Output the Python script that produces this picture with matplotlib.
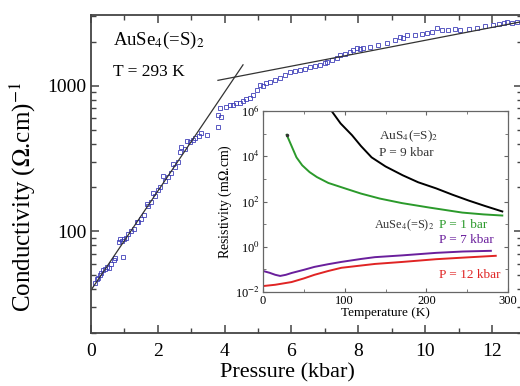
import numpy as np
import matplotlib
matplotlib.use('Agg')
import matplotlib.pyplot as plt
from matplotlib.ticker import LogLocator, NullFormatter, FixedLocator, MultipleLocator

plt.rcParams['font.family'] = ['Liberation Serif', 'DejaVu Serif']
plt.rcParams['mathtext.fontset'] = 'stix'

# Conductivity vs pressure (T = 293 K)
p_low = [0.12, 0.18, 0.22, 0.27, 0.3, 0.35, 0.42, 0.48, 0.55, 0.6, 0.68, 0.72,
         0.85, 0.88, 0.92, 0.96, 1.0, 1.05, 1.12, 1.2, 1.28, 1.37, 1.42, 1.5,
         1.58, 1.67, 1.72, 1.8, 1.86, 1.92, 2.0, 2.08, 2.16, 2.22, 2.3, 2.38,
         2.46, 2.52, 2.6, 2.66, 2.7, 2.8, 2.88, 2.95, 3.06, 3.12, 3.23, 3.3,
         3.47, 3.8, 3.8, 3.86, 3.9]
s_low = [44, 47, 48, 50, 52, 54, 55, 57, 56, 60, 63, 66,
         85, 89, 86, 67, 88, 90, 96, 100, 104, 115, 116, 122,
         130, 155, 150, 160, 183, 175, 192, 200, 238, 222, 235, 250,
         288, 278, 300, 348, 382, 365, 420, 410, 427, 440, 450, 470,
         462, 524, 633, 707, 614]
p_high = [4.05, 4.15, 4.25, 4.35, 4.46, 4.55, 4.65, 4.76, 4.85, 4.97, 5.06,
          5.15, 5.25, 5.36, 5.5, 5.65, 5.8, 5.96, 6.1, 6.25, 6.4, 6.56, 6.7,
          6.85, 7.0, 7.07, 7.2, 7.35, 7.46, 7.6, 7.75, 7.85, 7.96, 8.05, 8.15,
          8.35, 8.6, 8.85, 9.1, 9.25, 9.35, 9.46, 9.7, 9.9, 10.06, 10.2, 10.36,
          10.5, 10.7, 10.9, 11.05, 11.3, 11.56, 11.8, 12.04, 12.2, 12.35, 12.46,
          12.6, 12.75]
s_high = [720, 735, 740, 760, 765, 790, 805, 828, 870, 940, 1016,
          1000, 1040, 1065, 1100, 1130, 1180, 1247, 1260, 1290, 1310, 1350, 1370,
          1400, 1430, 1460, 1500, 1560, 1630, 1650, 1700, 1760, 1820, 1790, 1830,
          1850, 1900, 1960, 2050, 2170, 2140, 2230, 2220, 2260, 2300, 2350, 2490,
          2400, 2430, 2460, 2420, 2450, 2490, 2560, 2620, 2640, 2680, 2740,
          2720, 2760]

# fitted straight lines (semi-log)
fit1_p = [0.0, 4.55]
fit1_s = [39.4, 1393]
fit2_p = [3.8, 12.9]
fit2_s = [1090, 2760]

# Inset: resistivity vs temperature (log10 of rho in mOhm.cm)
t_black = [84, 95, 109, 120, 133, 150, 171, 190, 212, 232, 252, 272, 293]
r_black = [6.0, 5.45, 4.93, 4.45, 3.95, 3.55, 3.16, 2.85, 2.58, 2.3, 2.04, 1.8, 1.56]
t_green = [29, 35, 41, 48, 57, 66, 80, 102, 120, 143, 170, 204, 244, 270, 293]
r_green = [4.95, 4.45, 3.95, 3.6, 3.3, 3.08, 2.82, 2.56, 2.35, 2.13, 1.93, 1.73, 1.51, 1.43, 1.38]
t_purple = [0, 8, 15, 21, 28, 35, 50, 63, 80, 96, 120, 137, 171, 212, 245, 279]
r_purple = [-1.07, -1.15, -1.24, -1.29, -1.24, -1.16, -1.02, -0.89, -0.77, -0.67, -0.54, -0.46, -0.38, -0.27, -0.21, -0.18]
t_red = [2, 15, 35, 50, 63, 80, 96, 120, 137, 171, 212, 250, 285]
r_red = [-1.73, -1.68, -1.56, -1.4, -1.24, -1.07, -0.93, -0.83, -0.76, -0.67, -0.55, -0.47, -0.4]

W, H = 520, 386
fig = plt.figure(figsize=(W / 100, H / 100), dpi=100)

# main axes (right spine sits just outside the picture)
ax = fig.add_axes([91 / W, (H - 333) / H, (522 - 91) / W, (333 - 15) / H])
ax.set_yscale('log')
ax.set_xlim(0, 12.9)
ax.set_ylim(20, 3065)
ax.plot(p_low, s_low, 's', mfc='none', mec='#3d3db8', ms=3.2, mew=0.7, alpha=0.85)
ax.plot(p_high, s_high, 's', mfc='none', mec='#3d3db8', ms=3.2, mew=0.7, alpha=0.85)
ax.plot(fit1_p, fit1_s, color='#333333', lw=0.9)
ax.plot(fit2_p, fit2_s, color='#333333', lw=0.9)

ax.xaxis.set_major_locator(MultipleLocator(2))
ax.xaxis.set_minor_locator(MultipleLocator(1))
ax.yaxis.set_major_locator(FixedLocator([100, 1000]))
ax.yaxis.set_major_formatter(plt.FixedFormatter(['100', '1000']))
ax.yaxis.set_minor_locator(LogLocator(base=10, subs=np.arange(2, 10)))
ax.yaxis.set_minor_formatter(NullFormatter())
ax.tick_params(which='both', direction='in', top=True, right=True,
               color='#444444', labelsize=14)
ax.tick_params(which='major', length=6, width=1.1)
ax.tick_params(which='minor', length=3.5, width=1.0)
ax.tick_params(axis='x', pad=7)
for s in ax.spines.values():
    s.set_linewidth(1.3)
    s.set_color('#444444')

ax.set_xlabel('Pressure (kbar)', fontsize=16)
ax.xaxis.set_label_coords((287 - 91) / (522 - 91), -0.095)
ax.set_ylabel(r'Conductivity ($\Omega$.cm)$^{-1}$', fontsize=18)
ax.yaxis.set_label_coords(-0.122, (333 - 197) / 318)

ax.text(0.05, 0.92, r'AuSe$_4$(=S)$_2$', transform=ax.transAxes, fontsize=13.5,
        va='center', ha='left')
ax.text(0.05, 0.82, 'T = 293 K', transform=ax.transAxes, fontsize=12.5,
        va='center', ha='left')

# inset
ins = fig.add_axes([263 / W, (H - 292) / H, (508 - 263) / W, (292 - 111) / H])
ins.set_yscale('log')
ins.set_xlim(0, 300)
ins.set_ylim(1e-2, 1e6)
ins.plot(t_black, 10 ** np.array(r_black), color='black', lw=1.4)
ins.plot(t_green, 10 ** np.array(r_green), color='#2b9a2b', lw=1.4)
ins.plot(t_green[:1], 10 ** np.array(r_green[:1]), '.', color='#333333', ms=3)
ins.plot(t_purple, 10 ** np.array(r_purple), color='#6a1f9c', lw=1.4)
ins.plot(t_red, 10 ** np.array(r_red), color='#e02424', lw=1.4)

ins.xaxis.set_major_locator(MultipleLocator(100))
ins.xaxis.set_minor_locator(MultipleLocator(50))
ins.yaxis.set_major_locator(FixedLocator([1e-2, 1, 1e2, 1e4, 1e6]))
ins.yaxis.set_major_formatter(plt.FixedFormatter(
    [r'10$^{-2}$', r'10$^{0}$', r'10$^{2}$', r'10$^{4}$', r'10$^{6}$']))
ins.yaxis.set_minor_locator(FixedLocator([1e-1, 1e1, 1e3, 1e5]))
ins.yaxis.set_minor_formatter(NullFormatter())
ins.tick_params(which='both', direction='in', top=True, right=True,
                color='#666666', labelsize=9, pad=2)
ins.tick_params(which='major', length=3, width=0.8)
ins.tick_params(which='minor', length=2, width=0.6)
for s in ins.spines.values():
    s.set_linewidth(0.9)
    s.set_color('#666666')
ins.set_xlabel('Temperature (K)', fontsize=9.5, labelpad=0)
ins.set_ylabel(r'Resistivity (m$\Omega$.cm)', fontsize=10, labelpad=1)

ins.text(142, 10 ** 4.9, r'AuS$_4$(=S)$_2$', fontsize=9.5, color='#333333', va='center')
ins.text(142, 10 ** 4.15, 'P = 9 kbar', fontsize=9.5, color='#333333', va='center')
ins.text(136, 10 ** 0.95, r'AuSe$_4$(=S)$_2$', fontsize=8.8, color='#333333', va='center')
ins.text(215, 10 ** 0.95, 'P = 1 bar', fontsize=9.5, color='#2b9a2b', va='center')
ins.text(215, 10 ** 0.3, 'P = 7 kbar', fontsize=9.5, color='#6a1f9c', va='center')
ins.text(215, 10 ** -1.25, 'P = 12 kbar', fontsize=9.5, color='#e02424', va='center')

fig.savefig('out.png', dpi=100)
